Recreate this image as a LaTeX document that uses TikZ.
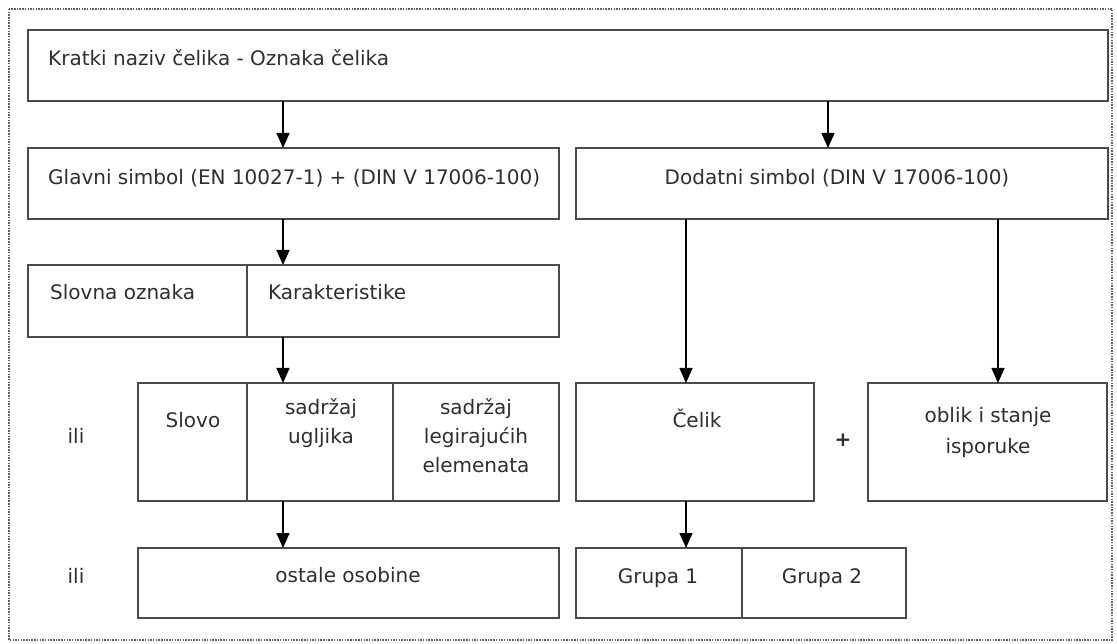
\documentclass[tikz,border=0pt]{standalone}
\usepackage{fontspec}
\setmainfont{DejaVu Sans}
\usetikzlibrary{arrows.meta}
\newcommand{\mltext}[1]{\begin{tabular}[t]{@{}c@{}}#1\end{tabular}}
\definecolor{boxline}{HTML}{4A4A4A}
\definecolor{txt}{HTML}{2E2E2E}
\definecolor{dotline}{HTML}{606060}
\begin{document}
\begin{tikzpicture}[x=1pt,y=-1pt,
  box/.style={draw=boxline, line width=1.8pt, inner sep=0pt, outer sep=0pt},
  lbl/.style={text=txt, font=\fontsize{20}{29}\selectfont, inner sep=0pt},
  arr/.style={draw=black, line width=1.5pt, -{Triangle[width=13pt,length=15pt]}},
  frame/.style={draw=dotline, line width=1.6pt, dash pattern=on 1.5pt off 1.2pt}]
\useasboundingbox (0,0) rectangle (1117,644);
\draw[frame] (9,9) rectangle (1112,640);
% boxes
\node[box,minimum width=1080pt,minimum height=71pt] (kratki) at (568,65.5) {};
\node[box,minimum width=531pt,minimum height=71pt] (glavni) at (293.5,183.5) {};
\node[box,minimum width=532pt,minimum height=71pt] (dodatni) at (842,183.5) {};
\node[box,minimum width=219pt,minimum height=72pt] (slovna) at (137.5,301) {};
\node[box,minimum width=312pt,minimum height=72pt] (karakt) at (403,301) {};
\node[box,minimum width=109pt,minimum height=118pt] (slovo) at (192.5,442) {};
\node[box,minimum width=146pt,minimum height=118pt] (ugljik) at (320,442) {};
\node[box,minimum width=166pt,minimum height=118pt] (legir) at (476,442) {};
\node[box,minimum width=238pt,minimum height=118pt] (celik) at (695,442) {};
\node[box,minimum width=239pt,minimum height=118pt] (oblik) at (987.5,442) {};
\node[box,minimum width=421pt,minimum height=70pt] (ostale) at (348.5,583) {};
\node[box,minimum width=166pt,minimum height=70pt] (grupa1) at (659,583) {};
\node[box,minimum width=164pt,minimum height=70pt] (grupa2) at (824,583) {};
% texts
\node[lbl,anchor=base west] (t1) at (48,66) {Kratki naziv čelika - Oznaka čelika};
\node[lbl,anchor=base west] (t2) at (48,185) {Glavni simbol (EN 10027-1) + (DIN V 17006-100)};
\node[lbl,anchor=base] (t3) at (837,185) {Dodatni simbol (DIN V 17006-100)};
\node[lbl,anchor=base west] (t4) at (50,300) {Slovna oznaka};
\node[lbl,anchor=base west] (t5) at (268,300) {Karakteristike};
\node[lbl,anchor=base] (t6) at (76,443) {ili};
\node[lbl,anchor=base] (t7) at (193,428) {Slovo};
\node[lbl,anchor=base] (t8) at (321,414) {\mltext{sadržaj\\ugljika}};
\node[lbl,anchor=base] (t9) at (476,414) {\mltext{sadržaj\\legirajućih\\elemenata}};
\node[lbl,anchor=base] (t10) at (697,427) {Čelik};
\node[lbl,anchor=base,font=\fontsize{20}{29}\selectfont\bfseries] (plus) at (843,446) {+};
\node[lbl,anchor=base,font=\fontsize{20}{31}\selectfont] (t11) at (988,422) {\mltext{oblik i stanje\\isporuke}};
\node[lbl,anchor=base] (t12) at (76,583) {ili};
\node[lbl,anchor=base] (t13) at (348,582) {ostale osobine};
\node[lbl,anchor=base] (t14) at (658,583) {Grupa 1};
\node[lbl,anchor=base] (t15) at (822,583) {Grupa 2};
% arrow columns
\coordinate (xa) at (283,0);
\coordinate (xb) at (828,0);
\coordinate (xc) at (686,0);
\coordinate (xd) at (998,0);
\draw[arr] (kratki.south -| xa) -- (glavni.north -| xa);
\draw[arr] (kratki.south -| xb) -- (dodatni.north -| xb);
\draw[arr] (glavni.south -| xa) -- (karakt.north -| xa);
\draw[arr] (karakt.south -| xa) -- (ugljik.north -| xa);
\draw[arr] (ugljik.south -| xa) -- (ostale.north -| xa);
\draw[arr] (dodatni.south -| xc) -- (celik.north -| xc);
\draw[arr] (dodatni.south -| xd) -- (oblik.north -| xd);
\draw[arr] (celik.south -| xc) -- (grupa1.north -| xc);
\end{tikzpicture}
\end{document}
